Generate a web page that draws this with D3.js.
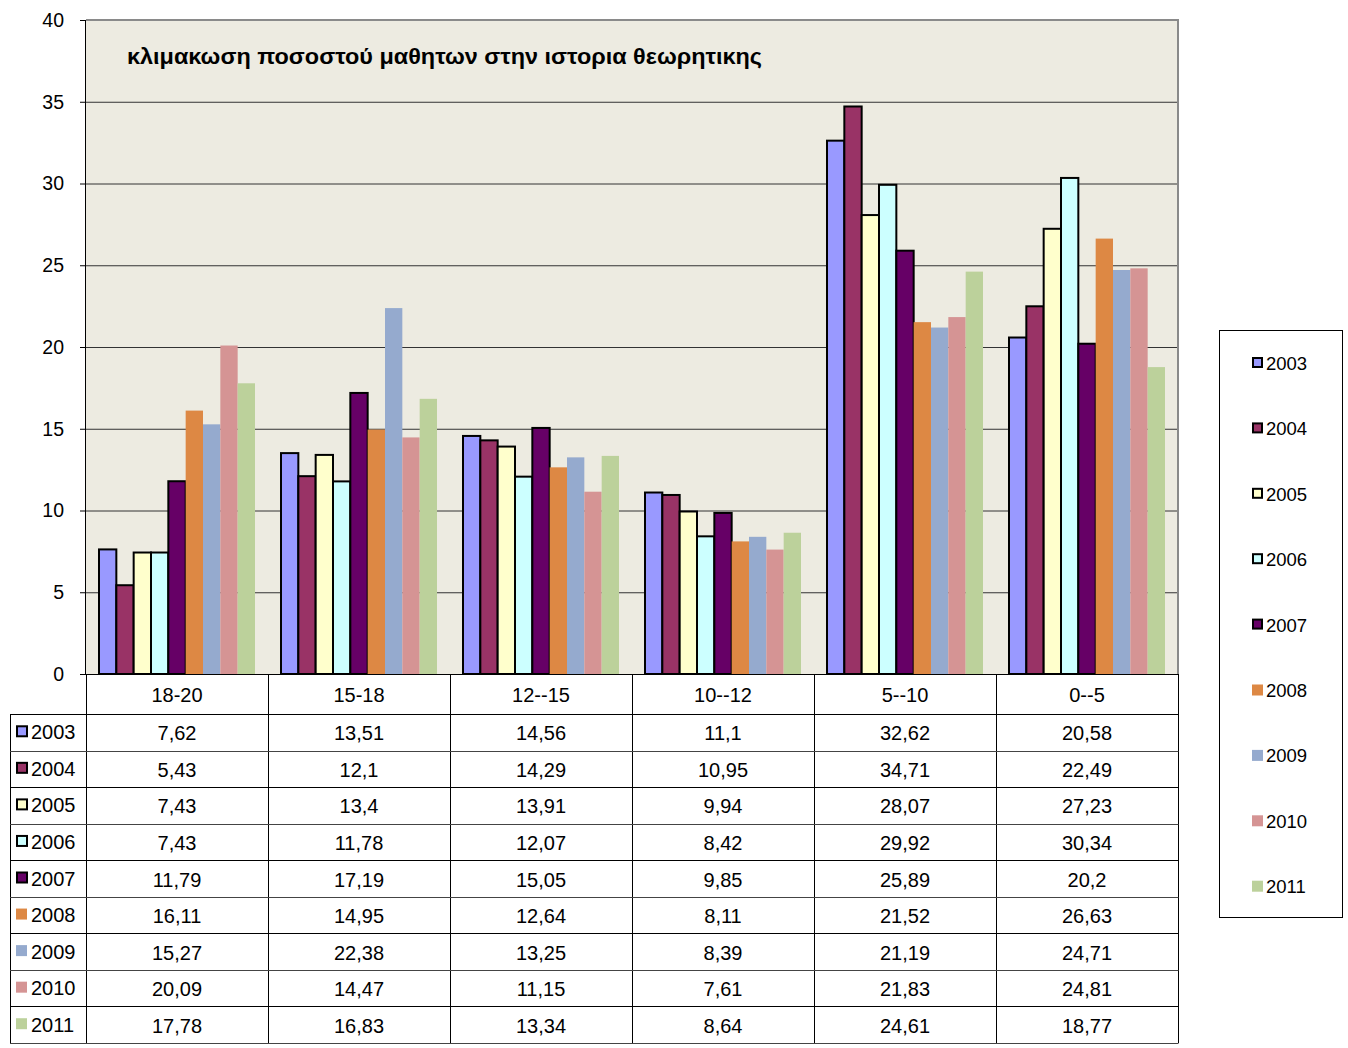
<!DOCTYPE html>
<html><head><meta charset="utf-8">
<script src="https://cdn.jsdelivr.net/npm/d3@7/dist/d3.min.js"></script>
<style>body{margin:0;background:#fff;font-family:"Liberation Sans",Arial,sans-serif;}</style>
</head><body>
<svg id="c" width="1348" height="1048"></svg>
<script>
const title = "κλιμακωση ποσοστού μαθητων στην ιστορια θεωρητικης";
const categories = ["18-20","15-18","12--15","10--12","5--10","0--5"];
const years = ["2003","2004","2005","2006","2007","2008","2009","2010","2011"];
const v2003 = [7.62,13.51,14.56,11.1,32.62,20.58];
const v2004 = [5.43,12.1,14.29,10.95,34.71,22.49];
const v2005 = [7.43,13.4,13.91,9.94,28.07,27.23];
const v2006 = [7.43,11.78,12.07,8.42,29.92,30.34];
const v2007 = [11.79,17.19,15.05,9.85,25.89,20.2];
const v2008 = [16.11,14.95,12.64,8.11,21.52,26.63];
const v2009 = [15.27,22.38,13.25,8.39,21.19,24.71];
const v2010 = [20.09,14.47,11.15,7.61,21.83,24.81];
const v2011 = [17.78,16.83,13.34,8.64,24.61,18.77];
const yTicks = [0,5,10,15,20,25,30,35,40];
const colors = ["#9999FF","#993366","#FFFFCC","#CCFFFF","#660066","#DD8844","#95AACE","#D59494","#BCD19B"];
const outlined = [true,true,true,true,true,false,false,false,false];

const series = years.map((y,i)=>({year:y,color:colors[i],outlined:outlined[i],
  values:[v2003,v2004,v2005,v2006,v2007,v2008,v2009,v2010,v2011][i]}));

const svg = d3.select("#c");
const L=86, R=1178, T=20, B=674;
const x = d3.scaleBand().domain(categories).range([L,R]);
const xi = d3.scaleBand().domain(years).range([13, x.bandwidth()-13]);
const y = d3.scaleLinear().domain([0,40]).range([B,T]);

// plot background
svg.append("rect").attr("x",L).attr("y",T).attr("width",R-L).attr("height",B-T)
  .attr("fill","#EDEBE1");
// gridlines
svg.append("g").selectAll("line").data(yTicks.filter(t=>t>0&&t<40)).join("line")
  .attr("x1",L).attr("x2",R).attr("y1",d=>y(d)+0.5).attr("y2",d=>y(d)+0.5)
  .attr("stroke","#333").attr("stroke-width",1);
// border top/right
svg.append("path").attr("d",`M${L},${T} H${R} V${B}`).attr("fill","none")
  .attr("stroke","#8a8a8a").attr("stroke-width",2);

// bars
const g = svg.append("g");
series.forEach(s=>{
  g.append("g").selectAll("rect").data(s.values).join("rect")
    .attr("x",(d,j)=>x(categories[j])+xi(s.year))
    .attr("y",d=>y(d))
    .attr("width",xi.bandwidth())
    .attr("height",d=>y(0)-y(d))
    .attr("fill",s.color)
    .attr("stroke",s.outlined?"#000":"none")
    .attr("stroke-width",2);
});

// y axis
const ya = svg.append("g").attr("transform",`translate(${L},0)`)
  .call(d3.axisLeft(y).tickValues(yTicks).tickSize(6).tickPadding(16).tickFormat(d3.format("d")));
ya.select(".domain").attr("stroke","#000").attr("d",`M-0.5,${T}V${B}`);
ya.selectAll("line").attr("stroke","#000");
ya.selectAll("text").attr("font-size",19.5).attr("font-family","Liberation Sans, Arial, sans-serif").attr("fill","#000");
// x axis line
svg.append("line").attr("x1",L-6).attr("x2",R).attr("y1",B+0.5).attr("y2",B+0.5).attr("stroke","#000");

// title
svg.append("text").attr("x",127).attr("y",64).attr("font-size",21.5).attr("font-weight","bold")
  .attr("textLength",635).attr("lengthAdjust","spacingAndGlyphs")
  .attr("fill","#000").text(title);

// table
const rowTop = 714, rowBottom = 1043;
const rh = (rowBottom-rowTop)/years.length;
const tbl = svg.append("g").attr("font-size",20).attr("fill","#000");
// header labels
tbl.selectAll("text.cat").data(categories).join("text").attr("class","cat")
  .attr("x",d=>x(d)+x.bandwidth()/2).attr("y",B+28).attr("text-anchor","middle")
  .attr("font-size",20).text(d=>d);
// vertical lines
const vx = categories.map(c=>x(c)).concat([R]);
tbl.selectAll("line.v").data(vx).join("line").attr("class","v")
  .attr("x1",d=>Math.round(d)+0.5).attr("x2",d=>Math.round(d)+0.5).attr("y1",B).attr("y2",rowBottom)
  .attr("stroke","#000");
tbl.append("line").attr("x1",10.5).attr("x2",10.5).attr("y1",rowTop).attr("y2",rowBottom).attr("stroke","#000");
// horizontal lines
const hy = d3.range(years.length+1).map(i=>rowTop+i*rh);
tbl.selectAll("line.h").data(hy).join("line").attr("class","h")
  .attr("x1",10).attr("x2",R+0.5).attr("y1",d=>Math.round(d)+0.5).attr("y2",d=>Math.round(d)+0.5)
  .attr("stroke",(d,i)=>i%2?"#444":"#000");
// rows
series.forEach((s,i)=>{
  const cy = rowTop + i*rh + rh/2;
  tbl.append("rect").attr("x",s.outlined?17:16).attr("y",cy-(s.outlined?6:6.5)).attr("width",s.outlined?10:11).attr("height",s.outlined?10:11)
    .attr("fill",s.color).attr("stroke",s.outlined?"#000":"none").attr("stroke-width",2);
  tbl.append("text").attr("x",31).attr("y",cy+7).text(s.year);
  tbl.append("g").selectAll("text").data(s.values).join("text")
    .attr("x",(d,j)=>x(categories[j])+x.bandwidth()/2).attr("y",cy+8).attr("text-anchor","middle")
    .text(d=>String(d).replace(".",","));
});

// legend
svg.append("rect").attr("x",1219.5).attr("y",330.5).attr("width",123).attr("height",587)
  .attr("fill","#fff").attr("stroke","#000");
const lg = svg.append("g");
series.forEach((s,i)=>{
  const cy = 363 + i*65.4;
  lg.append("rect").attr("x",s.outlined?1253:1252).attr("y",cy-(s.outlined?5:5.5)).attr("width",s.outlined?9:11).attr("height",s.outlined?9:11)
    .attr("fill",s.color).attr("stroke",s.outlined?"#000":"none").attr("stroke-width",2);
  lg.append("text").attr("x",1266).attr("y",cy+7).attr("font-size",18.5).attr("fill","#000").text(s.year);
});
</script>
</body></html>
